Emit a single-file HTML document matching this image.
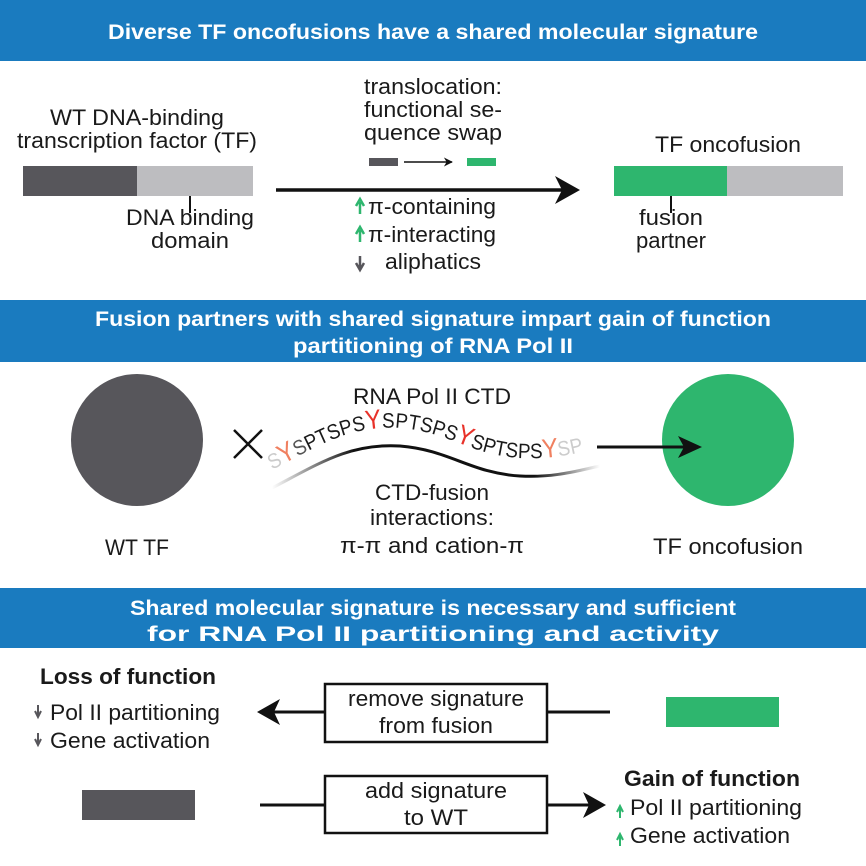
<!DOCTYPE html>
<html><head><meta charset="utf-8"><style>
html,body{margin:0;padding:0;background:#fff}
svg{display:block}
text{font-family:"Liberation Sans",sans-serif;fill:#1a1a1a}
.h{fill:#fff;font-weight:bold;font-size:21px}
.t{font-size:22px}
</style></head><body>
<svg width="866" height="866" viewBox="0 0 866 866" xmlns="http://www.w3.org/2000/svg">
<defs>
<marker id="ah" viewBox="0 0 10 10" refX="9" refY="5" markerWidth="6" markerHeight="6" orient="auto-start-reverse"><path d="M0,0 L10,5 L0,10 L3,5z" fill="#111"/></marker>
<path id="wave" d="M272,470 C320,445 350,425 400,428 C450,432 470,455 520,458 C555,460 580,452 600,448"/>
<linearGradient id="wg" x1="0" x2="1"><stop offset="0" stop-color="#fff"/><stop offset="0.25" stop-color="#111"/><stop offset="0.8" stop-color="#111"/><stop offset="1" stop-color="#fff"/></linearGradient>
</defs>
<!-- headers -->
<rect x="0" y="0" width="866" height="61" fill="#1a7bbf"/>
<text class="h" x="433" y="39" text-anchor="middle" textLength="650" lengthAdjust="spacingAndGlyphs">Diverse TF oncofusions have a shared molecular signature</text>
<rect x="0" y="300" width="866" height="62" fill="#1a7bbf"/>
<text class="h" x="433" y="326" text-anchor="middle" textLength="676" lengthAdjust="spacingAndGlyphs">Fusion partners with shared signature impart gain of function</text>
<text class="h" x="433" y="353" text-anchor="middle" textLength="280" lengthAdjust="spacingAndGlyphs">partitioning of RNA Pol II</text>
<rect x="0" y="588" width="866" height="60" fill="#1a7bbf"/>
<text class="h" x="433" y="615" text-anchor="middle" textLength="606" lengthAdjust="spacingAndGlyphs">Shared molecular signature is necessary and sufficient</text>
<text class="h" x="433" y="641" text-anchor="middle" textLength="572" lengthAdjust="spacingAndGlyphs">for RNA Pol II partitioning and activity</text>

<!-- section 1 -->
<text class="t" x="137" y="125" text-anchor="middle" textLength="174" lengthAdjust="spacingAndGlyphs">WT DNA-binding</text>
<text class="t" x="137" y="148" text-anchor="middle" textLength="240" lengthAdjust="spacingAndGlyphs">transcription factor (TF)</text>
<rect x="23" y="166" width="114" height="30" fill="#57565b"/>
<rect x="137" y="166" width="116" height="30" fill="#bdbdc0"/>
<line x1="190" y1="196" x2="190" y2="213" stroke="#111" stroke-width="2"/>
<text class="t" x="190" y="225" text-anchor="middle" textLength="128" lengthAdjust="spacingAndGlyphs">DNA binding</text>
<text class="t" x="190" y="248" text-anchor="middle" textLength="78" lengthAdjust="spacingAndGlyphs">domain</text>

<text class="t" x="364" y="94" textLength="138" lengthAdjust="spacingAndGlyphs">translocation:</text>
<text class="t" x="364" y="117" textLength="138" lengthAdjust="spacingAndGlyphs">functional se-</text>
<text class="t" x="364" y="140" textLength="138" lengthAdjust="spacingAndGlyphs">quence swap</text>
<rect x="369" y="158" width="29" height="8" fill="#57565b"/>
<line x1="404" y1="162" x2="452" y2="162" stroke="#111" stroke-width="1.5" marker-end="url(#ah)"/>
<rect x="467" y="158" width="29" height="8" fill="#2eb66e"/>
<line x1="276" y1="190" x2="570" y2="190" stroke="#111" stroke-width="3.5"/>
<path d="M555,176 L580,190 L555,204 L562,190z" fill="#111"/>
<path d="M360,214 V202 M356,206 L360,199 L364,206" stroke="#2eb66e" stroke-width="2.5" fill="none"/>
<text class="t" x="368" y="214" textLength="128" lengthAdjust="spacingAndGlyphs">π-containing</text>
<path d="M360,242 V230 M356,234 L360,227 L364,234" stroke="#2eb66e" stroke-width="2.5" fill="none"/>
<text class="t" x="368" y="242" textLength="128" lengthAdjust="spacingAndGlyphs">π-interacting</text>
<path d="M360,256 V268 M356,263 L360,270 L364,263" stroke="#57565b" stroke-width="2.5" fill="none"/>
<text class="t" x="385" y="269" textLength="96" lengthAdjust="spacingAndGlyphs">aliphatics</text>

<text class="t" x="728" y="152" text-anchor="middle" textLength="146" lengthAdjust="spacingAndGlyphs">TF oncofusion</text>
<rect x="614" y="166" width="113" height="30" fill="#2eb66e"/>
<rect x="727" y="166" width="116" height="30" fill="#bdbdc0"/>
<line x1="671" y1="196" x2="671" y2="213" stroke="#111" stroke-width="2"/>
<text class="t" x="671" y="225" text-anchor="middle" textLength="64" lengthAdjust="spacingAndGlyphs">fusion</text>
<text class="t" x="671" y="248" text-anchor="middle" textLength="70" lengthAdjust="spacingAndGlyphs">partner</text>

<!-- section 2 -->
<circle cx="137" cy="440" r="66" fill="#57565b"/>
<path d="M234,430 L262,458 M262,430 L234,458" stroke="#111" stroke-width="2.5"/>
<circle cx="728" cy="440" r="66" fill="#2eb66e"/>
<line x1="597" y1="447" x2="690" y2="447" stroke="#111" stroke-width="3"/>
<path d="M678,436 L702,447 L678,458 L684,447z" fill="#111"/>
<text class="t" x="432" y="404" text-anchor="middle" textLength="158" lengthAdjust="spacingAndGlyphs">RNA Pol II CTD</text>
<path d="M272,488 C320,463 350,443 400,446 C450,450 470,473 520,476 C555,478 580,470 600,466" stroke="url(#wg)" stroke-width="3" fill="none"/>
<text font-size="21" style="font-family:'Liberation Sans',sans-serif"><textPath href="#wave" textLength="325" lengthAdjust="spacingAndGlyphs"><tspan fill="#ccc">S</tspan><tspan fill="#f08060" font-size="27">Y</tspan><tspan fill="#555">S</tspan>PTSPS<tspan fill="#e8322a" font-size="27">Y</tspan>SPTSPS<tspan fill="#e8322a" font-size="27">Y</tspan>SPTSPS<tspan fill="#f08060" font-size="27">Y</tspan><tspan fill="#ccc">SP</tspan></textPath></text>
<text class="t" x="432" y="500" text-anchor="middle" textLength="114" lengthAdjust="spacingAndGlyphs">CTD-fusion</text>
<text class="t" x="432" y="525" text-anchor="middle" textLength="124" lengthAdjust="spacingAndGlyphs">interactions:</text>
<text class="t" x="432" y="553" text-anchor="middle" textLength="184" lengthAdjust="spacingAndGlyphs">π-π and cation-π</text>
<text class="t" x="137" y="555" text-anchor="middle" textLength="64" lengthAdjust="spacingAndGlyphs">WT TF</text>
<text class="t" x="728" y="554" text-anchor="middle" textLength="150" lengthAdjust="spacingAndGlyphs">TF oncofusion</text>

<!-- section 3 -->
<text class="t" x="40" y="684" font-weight="bold" textLength="176" lengthAdjust="spacingAndGlyphs">Loss of function</text>
<path d="M38,705 V715 M35,711 L38,717 L41,711" stroke="#57565b" stroke-width="2" fill="none"/>
<text class="t" x="50" y="720" textLength="170" lengthAdjust="spacingAndGlyphs">Pol II partitioning</text>
<path d="M38,733 V743 M35,739 L38,745 L41,739" stroke="#57565b" stroke-width="2" fill="none"/>
<text class="t" x="50" y="748" textLength="160" lengthAdjust="spacingAndGlyphs">Gene activation</text>
<line x1="270" y1="712" x2="610" y2="712" stroke="#111" stroke-width="3"/>
<path d="M280,699 L257,712 L280,725 L274,712z" fill="#111"/>
<rect x="325" y="684" width="222" height="58" fill="#fff" stroke="#111" stroke-width="2.5"/>
<text class="t" x="436" y="706" text-anchor="middle" textLength="176" lengthAdjust="spacingAndGlyphs">remove signature</text>
<text class="t" x="436" y="733" text-anchor="middle" textLength="114" lengthAdjust="spacingAndGlyphs">from fusion</text>
<rect x="666" y="697" width="113" height="30" fill="#2eb66e"/>

<rect x="82" y="790" width="113" height="30" fill="#57565b"/>
<line x1="260" y1="805" x2="595" y2="805" stroke="#111" stroke-width="3"/>
<path d="M583,792 L606,805 L583,818 L589,805z" fill="#111"/>
<rect x="325" y="776" width="222" height="57" fill="#fff" stroke="#111" stroke-width="2.5"/>
<text class="t" x="436" y="798" text-anchor="middle" textLength="142" lengthAdjust="spacingAndGlyphs">add signature</text>
<text class="t" x="436" y="825" text-anchor="middle" textLength="64" lengthAdjust="spacingAndGlyphs">to WT</text>
<text class="t" x="712" y="786" font-weight="bold" text-anchor="middle" textLength="176" lengthAdjust="spacingAndGlyphs">Gain of function</text>
<path d="M620,818 V808 M617,812 L620,806 L623,812" stroke="#2eb66e" stroke-width="2" fill="none"/>
<text class="t" x="630" y="815" textLength="172" lengthAdjust="spacingAndGlyphs">Pol II partitioning</text>
<path d="M620,846 V836 M617,840 L620,834 L623,840" stroke="#2eb66e" stroke-width="2" fill="none"/>
<text class="t" x="630" y="843" textLength="160" lengthAdjust="spacingAndGlyphs">Gene activation</text>
</svg>
</body></html>
